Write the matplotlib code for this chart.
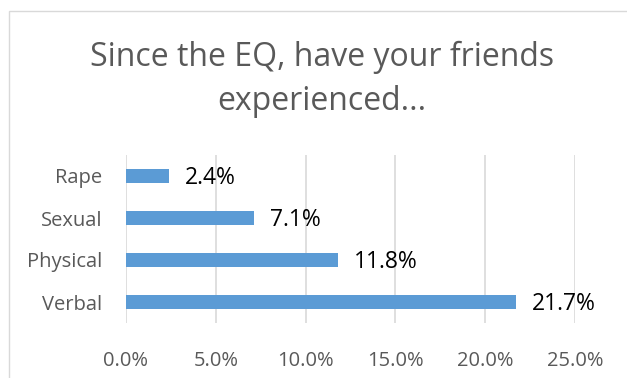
import matplotlib.pyplot as plt
from matplotlib.patches import Rectangle
from matplotlib.ticker import PercentFormatter

categories = ["Verbal", "Physical", "Sexual", "Rape"]
values = [21.7, 11.8, 7.1, 2.4]
xticks = [0, 5, 10, 15, 20, 25]

FONT = "Open Sans"
GREY = "#595959"
W, H = 627, 378

fig = plt.figure(figsize=(W / 100, H / 100), dpi=100)

# chart frame
fig.patches.append(Rectangle((9 / W, -0.1), 1.2, 1 - 11 / H + 0.1,
                             transform=fig.transFigure, fill=False,
                             edgecolor="#d9d9d9", linewidth=1.0))

ax = fig.add_axes([126 / W, 1 - 323 / H, (575 - 126) / W, (323 - 155) / H])
y = list(range(len(categories)))
ax.barh(y, values, height=0.35, color="#5b9bd5", zorder=3)

for yi, v in zip(y, values):
    ax.text(v + 0.9, yi - 0.05, f"{v:.1f}%", va="center", ha="left",
            fontsize=16.5, color="black", family=FONT)

ax.set_xlim(0, 25)
ax.set_ylim(-0.5, 3.5)
ax.set_xticks(xticks)
ax.xaxis.set_major_formatter(PercentFormatter(decimals=1))
ax.set_yticks(y)
ax.set_yticklabels(categories)
ax.grid(axis="x", color="#d9d9d9", linewidth=1.2, zorder=0)
for s in ax.spines.values():
    s.set_visible(False)
ax.tick_params(axis="both", length=0, labelsize=14.5, labelcolor=GREY)
ax.tick_params(axis="x", pad=20)
ax.tick_params(axis="y", pad=17)
for lab in ax.get_xticklabels() + ax.get_yticklabels():
    lab.set_family(FONT)

fig.text(322 / W, 1 - 66 / H, "Since the EQ, have your friends",
         ha="center", va="baseline", fontsize=23, color=GREY, family=FONT)
fig.text(322 / W, 1 - 110 / H, "experienced...",
         ha="center", va="baseline", fontsize=23, color=GREY, family=FONT)

fig.savefig("out.png", dpi=100)
